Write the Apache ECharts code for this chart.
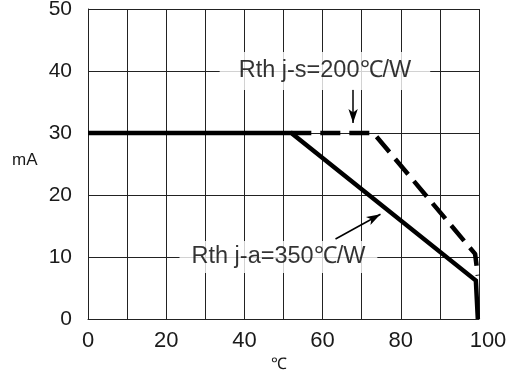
<!DOCTYPE html>
<html>
<head>
<meta charset="utf-8">
<script src="https://cdn.jsdelivr.net/npm/echarts@6/dist/echarts.min.js"></script>
<style>html,body{margin:0;padding:0;background:#fff}#c{width:519px;height:372px}</style>
</head>
<body>
<div id="c"></div>
<script>
// Curve data (°C, mA)
const ratingJA_x = [0, 52, 99.2, 99.7, 99.7];
const ratingJA_y = [30, 30, 6.2, 6, 0];
const ratingJS_x = [52, 73, 99, 99.7];
const ratingJS_y = [30, 30, 10.5, 7];
const labelJS = 'Rth j-s=200℃/W';
const labelJA = 'Rth j-a=350℃/W';
const labelJSPos = [60.6, 40];
const labelJAPos = [48.7, 10];
const arrowJS = [[67.8, 37], [67.8, 31.6]];
const arrowJA = [[63.3, 12.9], [74.8, 16.9]];
const xTickStep = 10, yTickStep = 10;

const zip = (xs, ys) => xs.map((x, i) => [x, ys[i]]);
const txt = '#1a1a1a';
const FF = 'Liberation Sans, Arial, sans-serif';
const chart = echarts.init(document.getElementById('c'), null, {renderer: 'canvas'});
chart.setOption({
  animation: false,
  backgroundColor: '#fff',
  grid: {left: 88, right: 40, top: 9, bottom: 53, containLabel: false, outerBoundsMode: 'none'},
  xAxis: {
    type: 'value', min: 0, max: 100, interval: xTickStep,
    name: '℃', nameLocation: 'middle', nameGap: 35,
    nameTextStyle: {fontSize: 16, color: txt, fontFamily: FF, padding: [0, 10, 0, 0]},
    axisLine: {show: true, lineStyle: {color: '#222', width: 1}},
    axisTick: {show: false},
    splitLine: {show: true, lineStyle: {color: '#222', width: 1}},
    axisLabel: {fontSize: 22, color: txt, margin: 11, fontFamily: FF,
      formatter: v => (v === 100 ? '{r|100}' : (v % 20 === 0 ? String(v) : '')),
      rich: {r: {fontSize: 22, color: txt, fontFamily: FF, padding: [0, 0, 0, 18]}}}
  },
  yAxis: {
    type: 'value', min: 0, max: 50, interval: yTickStep,
    axisLine: {show: true, lineStyle: {color: '#222', width: 1}},
    axisTick: {show: false},
    splitLine: {show: true, lineStyle: {color: '#222', width: 1}},
    axisLabel: {fontSize: 21, color: txt, margin: 16, fontFamily: FF}
  },
  graphic: [{
    type: 'text', left: 12, top: 152,
    style: {text: 'mA', fontSize: 17, fill: txt, fontFamily: FF}
  }],
  series: [
    {
      type: 'line', data: zip(ratingJA_x, ratingJA_y), symbol: 'none', clip: false,
      lineStyle: {color: '#000', width: 4.5, join: 'miter'}, z: 5
    },
    {
      type: 'line', data: zip(ratingJS_x, ratingJS_y), symbol: 'none', clip: false,
      lineStyle: {color: '#000', width: 4.5, type: [20, 9]}, z: 5,
      markLine: {
        silent: true, symbol: ['none', 'arrow'], symbolSize: [7, 14],
        label: {show: false},
        lineStyle: {color: '#000', width: 1.5, type: 'solid'},
        data: [
          [{coord: arrowJS[0]}, {coord: arrowJS[1]}],
          [{coord: arrowJA[0]}, {coord: arrowJA[1]}]
        ]
      }
    },
    {
      type: 'scatter', symbolSize: 0, z: 10,
      data: [
        {value: labelJSPos, name: labelJS, label: {padding: [7, 19, 7, 19]}},
        {value: labelJAPos, name: labelJA, label: {padding: [4, 12, 4, 12]}}
      ],
      label: {
        show: true, position: 'inside', formatter: p => p.name,
        fontSize: 23.5, color: '#000', backgroundColor: '#fff',
        fontFamily: FF
      }
    }
  ]
});
</script>
</body>
</html>
